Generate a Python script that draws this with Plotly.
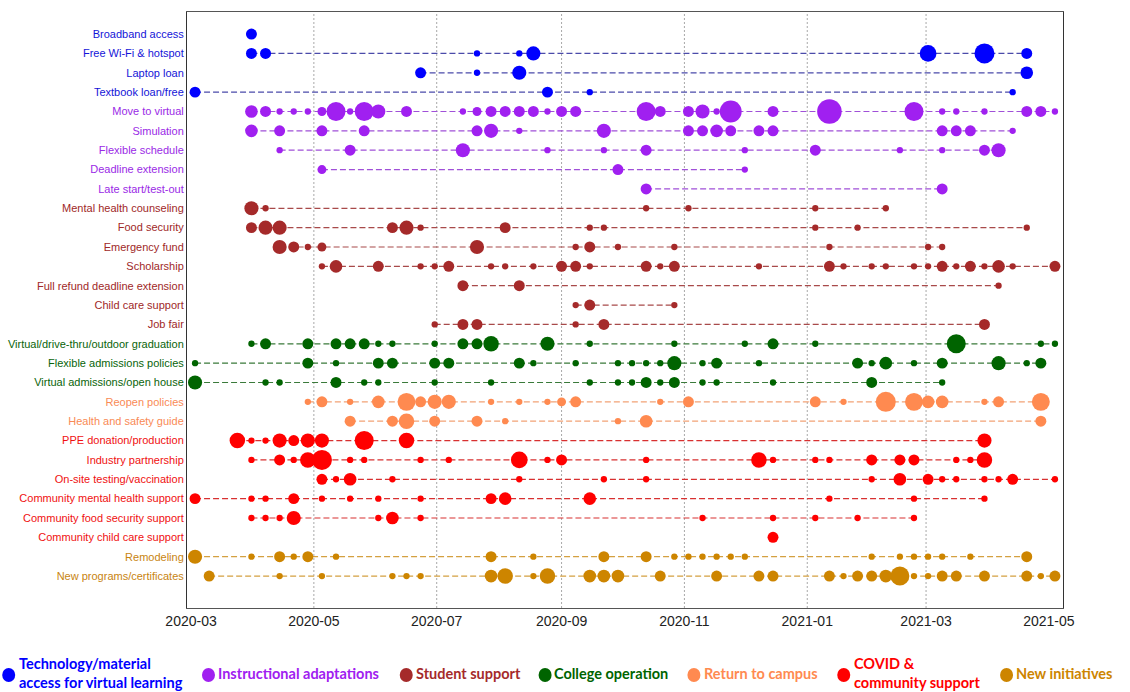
import plotly.graph_objects as go

# ---------------- data ----------------
categories = [
    "Broadband access", "Free Wi-Fi & hotspot", "Laptop loan", "Textbook loan/free",
    "Move to virtual", "Simulation", "Flexible schedule", "Deadline extension", "Late start/test-out",
    "Mental health counseling", "Food security", "Emergency fund", "Scholarship",
    "Full refund deadline extension", "Child care support", "Job fair",
    "Virtual/drive-thru/outdoor graduation", "Flexible admissions policies", "Virtual admissions/open house",
    "Reopen policies", "Health and safety guide",
    "PPE donation/production", "Industry partnership", "On-site testing/vaccination",
    "Community mental health support", "Community food security support", "Community child care support",
    "Remodeling", "New programs/certificates",
]
row_groups = [0, 0, 0, 0, 1, 1, 1, 1, 1, 2, 2, 2, 2, 2, 2, 2, 3, 3, 3, 4, 4, 5, 5, 5, 5, 5, 5, 6, 6]

group_names = [
    "Technology/material<br>access for virtual learning", "Instructional adaptations",
    "Student support", "College operation", "Return to campus",
    "COVID &<br>community support", "New initiatives",
]
group_colors = ["#0000FF", "#A020F0", "#A52A2A", "#006400", "#FF8A50", "#FF0000", "#CD8500"]
label_colors = ["#1414D8", "#9A2AE6", "#A02828", "#0A640A", "#F98A55", "#F01010", "#C88410"]
line_colors = ["#4B4BAA", "#A050D8", "#A84A4A", "#3A7A3A", "#F2A276", "#D83030", "#D4A040"]

x_ticks = ["2020-03-01", "2020-05-01", "2020-07-01", "2020-09-01", "2020-11-01",
           "2021-01-01", "2021-03-01", "2021-05-01"]
grid_dates = ["2020-05-01", "2020-07-01", "2020-09-01", "2020-11-01", "2021-01-01", "2021-03-01"]
x_range = ["2020-02-28", "2021-05-08"]

broadband_dates = ["2020-03-31"]
broadband_counts = [3]
wifi_dates = ["2020-03-31", "2020-04-07", "2020-07-21", "2020-08-11", "2020-08-18", "2021-03-02",
              "2021-03-30", "2021-04-20"]
wifi_counts = [3, 3, 1, 1, 5, 7, 10, 3]
laptop_dates = ["2020-06-23", "2020-07-21", "2020-08-11", "2021-04-20"]
laptop_counts = [3, 1, 5, 4]
textbook_dates = ["2020-03-03", "2020-08-25", "2020-09-15", "2021-04-13"]
textbook_counts = [3, 3, 1, 1]

virtual_dates = ["2020-03-31", "2020-04-07", "2020-04-14", "2020-04-21", "2020-04-28", "2020-05-05",
                 "2020-05-12", "2020-05-19", "2020-05-26", "2020-06-02", "2020-06-16", "2020-07-14",
                 "2020-07-21", "2020-07-28", "2020-08-04", "2020-08-11", "2020-08-18", "2020-08-25",
                 "2020-09-01", "2020-09-08", "2020-10-13", "2020-10-20", "2020-11-03", "2020-11-10",
                 "2020-11-17", "2020-11-24", "2020-12-15", "2021-01-12", "2021-02-23", "2021-03-09",
                 "2021-03-16", "2021-03-30", "2021-04-20", "2021-04-27", "2021-05-04"]
virtual_counts = [4, 3, 1, 1, 1, 2, 9, 1, 9, 5, 3, 1, 2, 3, 3, 3, 3, 1, 3, 3, 9, 3, 3, 5, 1, 12, 3,
                  15, 9, 1, 1, 1, 3, 3, 1]
simulation_dates = ["2020-03-31", "2020-04-14", "2020-05-05", "2020-05-26", "2020-07-21", "2020-07-28",
                    "2020-08-11", "2020-09-22", "2020-11-03", "2020-11-10", "2020-11-17", "2020-11-24",
                    "2020-12-08", "2020-12-15", "2021-03-09", "2021-03-16", "2021-03-23", "2021-04-13"]
simulation_counts = [4, 3, 3, 3, 3, 5, 1, 5, 3, 3, 4, 3, 3, 3, 3, 3, 3, 1]
flexsched_dates = ["2020-04-14", "2020-05-19", "2020-07-14", "2020-08-25", "2020-09-22", "2020-10-13",
                   "2020-12-01", "2021-01-05", "2021-02-16", "2021-03-09", "2021-03-30", "2021-04-06"]
flexsched_counts = [1, 3, 5, 1, 1, 3, 1, 3, 1, 1, 3, 5]
deadline_dates = ["2020-05-05", "2020-09-29", "2020-12-01"]
deadline_counts = [2, 3, 1]
latestart_dates = ["2020-10-13", "2021-03-09"]
latestart_counts = [3, 3]

mental_dates = ["2020-03-31", "2020-04-07", "2020-10-13", "2020-11-03", "2021-01-05", "2021-02-09"]
mental_counts = [5, 1, 1, 1, 1, 1]
food_dates = ["2020-03-31", "2020-04-07", "2020-04-14", "2020-06-09", "2020-06-16", "2020-06-23",
              "2020-08-04", "2020-09-15", "2020-09-22", "2021-01-05", "2021-01-26", "2021-04-20"]
food_counts = [3, 5, 5, 3, 5, 1, 3, 1, 1, 1, 1, 1]
emergency_dates = ["2020-04-14", "2020-04-21", "2020-04-28", "2020-05-05", "2020-07-21", "2020-09-08",
                   "2020-09-15", "2020-09-29", "2020-10-27", "2021-01-12", "2021-03-02", "2021-03-09"]
emergency_counts = [5, 3, 1, 2, 5, 1, 3, 1, 1, 1, 1, 1]
scholarship_dates = ["2020-05-05", "2020-05-12", "2020-06-02", "2020-06-23", "2020-06-30", "2020-07-07",
                     "2020-07-28", "2020-08-04", "2020-08-18", "2020-09-01", "2020-09-08", "2020-09-15",
                     "2020-10-13", "2020-10-20", "2020-10-27", "2020-12-08", "2021-01-12", "2021-01-19",
                     "2021-02-02", "2021-02-09", "2021-02-23", "2021-03-02", "2021-03-09", "2021-03-16",
                     "2021-03-23", "2021-03-30", "2021-04-06", "2021-04-13", "2021-05-04"]
scholarship_counts = [1, 4, 3, 1, 1, 3, 1, 1, 1, 3, 3, 1, 3, 1, 3, 1, 3, 1, 1, 1, 1, 1, 3, 1, 3, 1, 4,
                      1, 3]
refund_dates = ["2020-07-14", "2020-08-11", "2021-04-06"]
refund_counts = [3, 3, 1]
childcare_dates = ["2020-09-08", "2020-09-15", "2020-10-27"]
childcare_counts = [1, 3, 1]
jobfair_dates = ["2020-06-30", "2020-07-14", "2020-07-21", "2020-09-08", "2020-09-22", "2021-03-30"]
jobfair_counts = [1, 3, 3, 1, 3, 3]

graduation_dates = ["2020-03-31", "2020-04-07", "2020-04-28", "2020-05-12", "2020-05-19", "2020-05-26",
                    "2020-06-02", "2020-06-09", "2020-06-30", "2020-07-14", "2020-07-21", "2020-07-28",
                    "2020-08-25", "2020-09-15", "2020-10-27", "2020-12-01", "2020-12-15", "2021-01-05",
                    "2021-03-16", "2021-04-27", "2021-05-04"]
graduation_counts = [1, 3, 3, 3, 3, 3, 1, 1, 1, 3, 3, 6, 5, 1, 1, 1, 3, 1, 9, 1, 1]
flexadm_dates = ["2020-03-03", "2020-04-28", "2020-05-12", "2020-06-02", "2020-06-09", "2020-06-30",
                 "2020-07-07", "2020-08-11", "2020-08-18", "2020-09-08", "2020-09-29", "2020-10-06",
                 "2020-10-13", "2020-10-20", "2020-10-27", "2020-11-10", "2020-11-17", "2020-12-08",
                 "2021-01-26", "2021-02-02", "2021-02-09", "2021-02-23", "2021-03-09", "2021-04-06",
                 "2021-04-20", "2021-04-27"]
flexadm_counts = [1, 3, 1, 3, 3, 3, 3, 3, 1, 1, 1, 1, 1, 1, 5, 1, 3, 1, 3, 1, 4, 1, 3, 5, 1, 3]
openhouse_dates = ["2020-03-03", "2020-04-07", "2020-04-14", "2020-05-12", "2020-05-26", "2020-06-02",
                   "2020-06-30", "2020-07-28", "2020-09-15", "2020-09-29", "2020-10-06", "2020-10-13",
                   "2020-10-20", "2020-10-27", "2020-11-10", "2020-11-17", "2020-12-15", "2021-02-02",
                   "2021-03-09"]
openhouse_counts = [5, 1, 1, 3, 1, 1, 1, 1, 1, 1, 1, 3, 1, 3, 1, 1, 1, 3, 1]

reopen_dates = ["2020-04-28", "2020-05-05", "2020-05-19", "2020-06-02", "2020-06-16", "2020-06-23",
                "2020-06-30", "2020-07-07", "2020-07-28", "2020-08-11", "2020-08-25", "2020-09-01",
                "2020-09-08", "2020-10-20", "2020-11-03", "2021-01-05", "2021-01-19", "2021-02-09",
                "2021-02-23", "2021-03-02", "2021-03-09", "2021-03-30", "2021-04-06", "2021-04-27"]
reopen_counts = [1, 3, 1, 4, 8, 3, 5, 5, 1, 1, 1, 2, 3, 1, 3, 3, 1, 10, 8, 4, 4, 1, 3, 8]
safety_dates = ["2020-05-19", "2020-06-09", "2020-06-16", "2020-06-30", "2020-07-21", "2020-08-04",
                "2020-09-29", "2020-10-13", "2021-04-27"]
safety_counts = [3, 3, 6, 3, 3, 1, 1, 4, 3]

ppe_dates = ["2020-03-24", "2020-03-31", "2020-04-07", "2020-04-14", "2020-04-21", "2020-04-28",
             "2020-05-05", "2020-05-26", "2020-06-16", "2021-03-30"]
ppe_counts = [6, 1, 1, 5, 3, 5, 5, 9, 6, 5]
industry_dates = ["2020-03-31", "2020-04-14", "2020-04-21", "2020-04-28", "2020-05-05", "2020-05-19",
                  "2020-05-26", "2020-06-23", "2020-07-07", "2020-08-11", "2020-08-25", "2020-09-01",
                  "2020-10-13", "2020-12-08", "2020-12-15", "2021-01-05", "2021-01-12", "2021-02-02",
                  "2021-02-16", "2021-02-23", "2021-03-16", "2021-03-23", "2021-03-30"]
industry_counts = [1, 3, 1, 6, 10, 1, 1, 1, 1, 7, 1, 3, 1, 6, 1, 1, 1, 3, 3, 3, 1, 1, 6]
testing_dates = ["2020-05-05", "2020-05-12", "2020-05-19", "2020-06-09", "2020-08-11", "2020-09-22",
                 "2020-10-13", "2021-02-02", "2021-02-16", "2021-03-02", "2021-03-09", "2021-03-16",
                 "2021-03-30", "2021-04-06", "2021-04-13", "2021-05-04"]
testing_counts = [3, 1, 4, 1, 1, 1, 1, 1, 4, 3, 1, 1, 1, 1, 3, 1]
cmental_dates = ["2020-03-03", "2020-03-31", "2020-04-07", "2020-04-21", "2020-05-05", "2020-05-19",
                 "2020-06-02", "2020-06-23", "2020-07-28", "2020-08-04", "2020-09-15", "2021-01-12",
                 "2021-02-23", "2021-03-30"]
cmental_counts = [3, 1, 1, 3, 1, 1, 1, 1, 3, 4, 4, 1, 1, 1]
cfood_dates = ["2020-03-31", "2020-04-07", "2020-04-14", "2020-04-21", "2020-06-02", "2020-06-09",
               "2020-06-23", "2020-11-10", "2020-12-15", "2021-01-05", "2021-01-26", "2021-02-23"]
cfood_counts = [1, 1, 1, 5, 1, 4, 1, 1, 1, 1, 1, 1]
cchild_dates = ["2020-12-15"]
cchild_counts = [3]

remodel_dates = ["2020-03-03", "2020-03-31", "2020-04-14", "2020-04-21", "2020-04-28", "2020-05-12",
                 "2020-07-28", "2020-08-18", "2020-09-22", "2020-10-13", "2020-10-27", "2020-11-03",
                 "2020-11-10", "2020-11-17", "2020-11-24", "2020-12-01", "2021-02-02", "2021-02-16",
                 "2021-02-23", "2021-03-02", "2021-03-09", "2021-03-23", "2021-04-20"]
remodel_counts = [5, 1, 3, 1, 3, 1, 3, 1, 3, 3, 1, 1, 1, 1, 1, 1, 1, 1, 1, 1, 1, 1, 3]
newprog_dates = ["2020-03-10", "2020-04-14", "2020-05-05", "2020-06-09", "2020-06-16", "2020-06-23",
                 "2020-07-28", "2020-08-04", "2020-08-18", "2020-08-25", "2020-09-15", "2020-09-22",
                 "2020-09-29", "2020-10-20", "2020-11-17", "2020-12-08", "2020-12-15", "2021-01-12",
                 "2021-01-19", "2021-01-26", "2021-02-02", "2021-02-09", "2021-02-16", "2021-02-23",
                 "2021-03-02", "2021-03-09", "2021-03-16", "2021-03-30", "2021-04-20", "2021-04-27",
                 "2021-05-04"]
newprog_counts = [3, 1, 1, 1, 1, 1, 4, 6, 1, 6, 4, 4, 4, 3, 3, 3, 3, 3, 1, 3, 3, 4, 9, 1, 1, 3, 3, 3,
                  3, 1, 3]

row_data = [
    (broadband_dates, broadband_counts), (wifi_dates, wifi_counts), (laptop_dates, laptop_counts),
    (textbook_dates, textbook_counts), (virtual_dates, virtual_counts),
    (simulation_dates, simulation_counts), (flexsched_dates, flexsched_counts),
    (deadline_dates, deadline_counts), (latestart_dates, latestart_counts),
    (mental_dates, mental_counts), (food_dates, food_counts), (emergency_dates, emergency_counts),
    (scholarship_dates, scholarship_counts), (refund_dates, refund_counts),
    (childcare_dates, childcare_counts), (jobfair_dates, jobfair_counts),
    (graduation_dates, graduation_counts), (flexadm_dates, flexadm_counts),
    (openhouse_dates, openhouse_counts), (reopen_dates, reopen_counts), (safety_dates, safety_counts),
    (ppe_dates, ppe_counts), (industry_dates, industry_counts), (testing_dates, testing_counts),
    (cmental_dates, cmental_counts), (cfood_dates, cfood_counts), (cchild_dates, cchild_counts),
    (remodel_dates, remodel_counts), (newprog_dates, newprog_counts),
]

# ---------------- figure ----------------
fig = go.Figure()

for cat, g, (dates, counts) in zip(categories, row_groups, row_data):
    fig.add_trace(go.Scatter(
        x=dates, y=[cat] * len(dates),
        mode="lines+markers",
        line=dict(color=line_colors[g], width=1.2, dash="6px,3px"),
        marker=dict(color=group_colors[g], size=counts, sizemode="area", sizeref=0.05,
                    line=dict(width=0), opacity=1),
        showlegend=False, hoverinfo="x+y",
    ))

ticktext = ['<span style="color:%s">%s</span>' % (label_colors[g], c)
            for c, g in zip(categories, row_groups)]

W, H = 1130, 692
L, R, T, B = 186.5, 66.5, 12, 84
pw, ph = W - L - R, H - T - B


def px2paper(px, py):
    return (px - L) / pw, (H - B - py) / ph


shapes = []
for gd in grid_dates:
    shapes.append(dict(type="line", xref="x", yref="paper", x0=gd, x1=gd, y0=0, y1=1,
                       line=dict(color="#a8a8a8", width=1, dash="2px,2px"), layer="below"))

# custom horizontal legend (marker + text), positions in window pixels
legend_marker_px = [8, 208, 406, 545, 694, 844, 1007]
legend_text_px = [16, 216, 414, 552, 702, 852, 1014]
legend_y_px = 673
annotations = []
for name, col, mx, tx in zip(group_names, group_colors, legend_marker_px, legend_text_px):
    xa, ya = px2paper(mx, legend_y_px + 2)
    shapes.append(dict(type="circle", xref="paper", yref="paper", xsizemode="pixel", ysizemode="pixel",
                       xanchor=xa, yanchor=ya, x0=-6.5, x1=6.5, y0=-7, y1=7,
                       fillcolor=col, line=dict(width=0)))
    xt, yt = px2paper(tx, legend_y_px)
    annotations.append(dict(xref="paper", yref="paper", x=xt, y=yt, xanchor="left", yanchor="middle",
                            text="<b>%s</b>" % name, showarrow=False, align="left",
                            font=dict(family="Lato, Open Sans, sans-serif", size=14.5, color=col)))

fig.update_layout(
    width=W, height=H,
    margin=dict(l=L, r=R, t=T, b=B, autoexpand=False),
    paper_bgcolor="white", plot_bgcolor="white",
    showlegend=False,
    shapes=shapes, annotations=annotations,
    xaxis=dict(type="date", range=x_range, tickvals=x_ticks, tickformat="%Y-%m",
               showgrid=False, zeroline=False, showline=True, mirror=True,
               linecolor="#555555", linewidth=1, ticks="",
               tickfont=dict(family="Liberation Sans, Arial, sans-serif", size=14, color="#222222")),
    yaxis=dict(type="category", categoryorder="array", categoryarray=categories,
               range=[29.65, -1.14], tickvals=categories, ticktext=ticktext,
               showgrid=False, zeroline=False, showline=True, mirror=True,
               linecolor="#333333", linewidth=1, ticks="",
               tickfont=dict(family="Liberation Sans, Arial, sans-serif", size=11)),
)

# remove the page's default 8px body margin so the figure sits at the window's corner
fig.write_html("out.html", config={"displayModeBar": False},
               post_script="document.body.style.margin='0px';")
